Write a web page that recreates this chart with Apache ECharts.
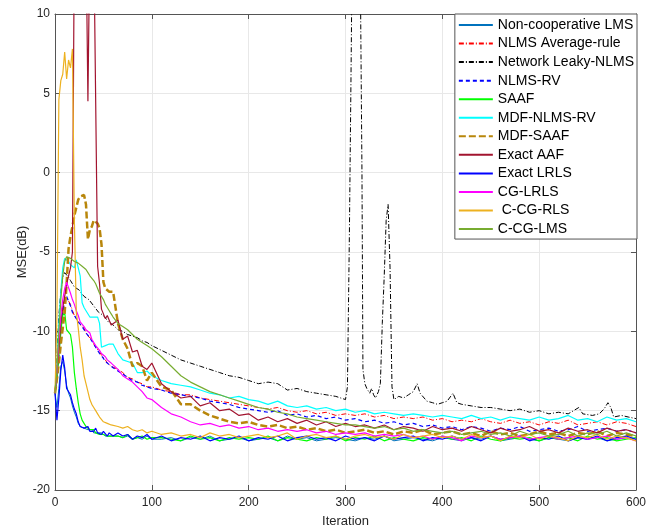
<!DOCTYPE html>
<html>
<head>
<meta charset="utf-8">
<script src="https://cdn.jsdelivr.net/npm/echarts@6/dist/echarts.min.js"></script>
<style>
  html, body { margin: 0; padding: 0; background: #fff; }
  #chart { width: 666px; height: 530px; }
</style>
</head>
<body>
<div id="chart"></div>
<script>
/* ===== data ===== */
// shared iteration grid: dense at the start, sparser in the tail
const iters = [
  0, 2, 4, 6, 8, 10, 12, 14, 16, 18, 20, 22, 24, 26, 28, 30, 32, 34, 36, 38, 40, 42, 44, 46, 48, 50, 52, 54, 56, 58, 60,
  65, 70, 75, 80, 85, 90, 95, 100,
  110, 120, 130, 140, 150, 160, 170, 180, 190, 200, 210, 220, 230, 240, 250, 260, 270, 280, 290, 300,
  310, 320, 330, 340, 350, 360, 370, 380, 390, 400, 410, 420, 430, 440, 450, 460, 470, 480, 490, 500,
  510, 520, 530, 540, 550, 560, 570, 580, 590, 600
];

const nonCoopLms = [
  -13.9, -14.8, -13.6, -12.2, -11.9, -12.5, -13.4, -13.9, -14.2, -14.7, -15.1, -15.4, -15.8, -16.0, -16.1, -16.1,
  -16.2, -16.2, -16.3, -16.2, -16.4, -16.3, -16.4, -16.5, -16.4, -16.5, -16.6, -16.5, -16.6, -16.5, -16.6,
  -16.6, -16.7, -16.6, -16.8, -16.7, -16.8, -16.6, -16.8,
  -16.8, -16.7, -16.9, -16.7, -16.8, -16.6, -16.9, -16.8, -16.7, -16.9,
  -16.8, -16.7, -16.9, -16.6, -16.8, -16.7, -16.9, -16.8, -16.7, -16.8,
  -16.9, -16.7, -16.8, -16.6, -16.9, -16.8, -16.7, -16.8, -16.9, -16.7,
  -16.8, -16.9, -16.7, -16.8, -16.6, -16.9, -16.8, -16.7, -16.8, -16.9,
  -16.7, -16.8, -16.9, -16.7, -16.8, -16.7, -16.9, -16.8, -16.7, -16.8
];

const nlmsAvg = [
  -13.9, -13.1, -11.6, -10.1, -8.9, -8.1, -7.9, -7.8, -8.3, -8.7, -9.0, -9.1, -9.4, -9.6, -9.7, -9.8,
  -10.1, -10.3, -10.4, -10.5, -10.8, -11.0, -11.1, -11.3, -11.5, -11.6, -11.8, -12.0, -12.1, -12.2, -12.3,
  -12.4, -12.6, -12.9, -13.0, -13.2, -13.3, -13.5, -13.5,
  -13.7, -13.8, -14.0, -14.0, -14.2, -14.3, -14.4, -14.5, -14.6, -14.7,
  -14.8, -14.9, -14.8, -15.0, -15.1, -15.0, -15.2, -15.1, -15.3, -15.2,
  -15.3, -15.2, -15.4, -15.3, -15.5, -15.4, -15.5, -15.4, -15.6, -15.5,
  -15.7, -15.6, -15.7, -15.5, -15.7, -15.8, -15.6, -15.8, -15.7, -15.9,
  -15.7, -15.8, -15.6, -15.9, -15.8, -15.7, -15.9, -15.7, -15.8, -16.0
];

// the leaky NLMS curve has its own grid because of the spikes near 300-350
const leakyIters = [
  0, 2, 4, 6, 8, 10, 12, 14, 16, 18, 20,
  25, 30, 35, 40, 45, 50, 55, 60, 65, 70, 75, 80, 85, 90, 95, 100,
  110, 120, 130, 140, 150, 160, 170, 180, 190, 200, 210, 220, 230, 240, 250, 260, 270, 280, 290,
  295, 300, 302, 304, 306, 307, 312, 315, 317, 318, 320, 322, 325, 327, 329, 331, 334, 336, 338, 340, 342, 344, 346, 348, 350,
  355, 360, 365, 370, 374, 377, 384, 390, 395, 400, 405, 411, 415, 420,
  430, 440, 450, 460, 470, 480, 490, 500, 510, 520, 530, 541, 545, 555, 562, 567, 571, 574, 577, 585, 592, 600
];
const leakyMse = [
  -13.9, -11.5, -9.0, -7.5, -6.6, -6.3, -6.3, -6.6, -6.8, -7.0, -7.2,
  -7.4, -7.8, -8.0, -8.4, -8.8, -9.0, -9.4, -9.6, -9.9, -10.0, -10.2, -10.3, -10.4, -10.6, -10.7, -10.9,
  -11.2, -11.5, -11.8, -12.0, -12.2, -12.4, -12.6, -12.8, -12.9, -13.1, -13.3, -13.2, -13.3, -13.7, -13.6, -13.8, -13.9, -14.0, -14.1,
  -14.2, -14.3, -13.5, -4.0, 8.0, 15, 16, 15, 0, -12.4, -13.3, -13.6, -13.9, -13.6, -14.0, -14.2, -13.8, -13.3, -9.5, -6.5, -3.0, -2.0, -6.0, -13.5, -14.3,
  -14.1, -14.2, -14.0, -13.8, -13.3, -13.9, -14.4, -14.5, -14.6, -14.5, -14.4, -13.9, -14.5, -14.6,
  -14.7, -14.8, -14.8, -14.9, -15.0, -14.9, -15.1, -15.0, -15.2, -15.1, -15.2, -14.8, -15.2, -15.3, -15.2, -14.9, -14.5, -14.8, -15.4, -15.3, -15.4, -15.5
];

const nlmsRv = [
  -13.9, -13.0, -11.5, -10.0, -8.8, -8.0, -7.8, -7.7, -8.4, -8.8, -9.0, -9.2, -9.4, -9.5, -9.7, -9.9,
  -10.1, -10.2, -10.4, -10.6, -10.8, -11.0, -11.2, -11.4, -11.5, -11.7, -11.9, -12.0, -12.1, -12.2, -12.3,
  -12.5, -12.7, -12.9, -13.1, -13.2, -13.4, -13.5, -13.6,
  -13.7, -13.9, -14.0, -14.1, -14.2, -14.4, -14.5, -14.6, -14.8, -14.9,
  -15.0, -15.1, -15.0, -15.3, -15.2, -15.4, -15.3, -15.5, -15.4, -15.6,
  -15.5, -15.7, -15.6, -15.8, -15.7, -15.9, -15.8, -16.0, -15.9, -16.1,
  -16.0, -16.2, -16.0, -16.1, -16.3, -16.1, -16.2, -16.0, -16.3, -16.2,
  -16.1, -16.3, -16.2, -16.0, -16.3, -16.2, -16.1, -16.3, -16.2, -16.4
];

const saaf = [
  -13.9, -13.0, -11.5, -10.0, -9.0, -8.8, -9.9, -9.8, -10.2, -11.0, -12.6, -13.6, -14.5, -15.2, -15.6, -15.8,
  -16.0, -16.1, -16.2, -16.3, -16.2, -16.4, -16.3, -16.5, -16.4, -16.5, -16.4, -16.6, -16.5, -16.6, -16.5,
  -16.6, -16.7, -16.5, -16.8, -16.7, -16.6, -16.8, -16.7,
  -16.7, -16.8, -16.9, -16.6, -16.8, -16.7, -16.9, -16.7, -16.8, -16.7,
  -16.8, -16.6, -16.9, -16.7, -16.8, -16.9, -16.7, -16.8, -16.6, -16.9,
  -16.7, -16.8, -16.6, -16.9, -16.7, -16.8, -16.9, -16.7, -16.8, -16.6,
  -16.8, -16.7, -16.9, -16.6, -16.8, -16.9, -16.7, -16.8, -16.7, -16.9,
  -16.7, -16.8, -16.7, -16.9, -16.6, -16.8, -16.7, -16.9, -16.8, -16.7
];

const mdfNlmsRv = [
  -13.9, -12.0, -9.5, -7.5, -6.0, -5.4, -5.3, -5.6, -5.8, -5.9, -6.0, -5.5, -6.0, -6.5, -8.2, -8.5,
  -8.7, -8.8, -9.1, -9.0, -9.1, -9.2, -9.1, -9.5, -11.0, -11.0, -10.9, -11.0, -10.8, -10.8, -10.8,
  -11.4, -11.8, -11.9, -12.0, -12.6, -12.6, -12.5, -12.8,
  -13.1, -13.3, -13.4, -13.5, -13.7, -13.9, -14.0, -14.2, -14.1, -14.3,
  -14.4, -14.6, -14.4, -14.7, -14.8, -14.7, -14.9, -14.8, -15.0, -14.9,
  -15.1, -15.0, -15.2, -15.1, -15.2, -15.3, -15.2, -15.3, -15.4, -15.3,
  -15.4, -15.5, -15.3, -15.5, -15.4, -15.6, -15.4, -15.5, -15.6, -15.4,
  -15.6, -15.5, -15.3, -15.6, -15.5, -15.7, -15.4, -15.6, -15.5, -15.7
];

const mdfSaaf = [
  -13.9, -13.0, -12.0, -10.8, -9.8, -8.8, -7.0, -4.8, -4.0, -3.4, -2.7, -2.2, -1.7, -1.5, -1.4, -1.4,
  -2.0, -4.2, -3.6, -3.4, -3.0, -3.1, -3.2, -3.5, -4.5, -6.9, -7.3, -7.4, -7.5, -7.4, -7.5,
  -9.5, -10.5, -11.1, -12.2, -12.0, -12.2, -13.1, -12.6,
  -13.5, -13.7, -14.6, -14.6, -15.0, -15.3, -15.5, -15.7, -15.8, -15.7,
  -15.9, -16.0, -15.9, -16.1, -16.0, -16.2, -16.1, -16.3, -16.2, -16.4,
  -16.3, -16.2, -16.4, -16.3, -16.5, -16.3, -16.4, -16.2, -16.5, -16.4,
  -16.3, -16.5, -16.4, -16.6, -16.3, -16.5, -16.4, -16.6, -16.5, -16.3,
  -16.5, -16.4, -16.6, -16.4, -16.5, -16.3, -16.6, -16.4, -16.5, -16.6
];

// values above 10 dB are cut off by the axis
const exactAaf = [
  -13.9, -12.5, -11.0, -9.5, -8.5, -7.8, -7.0, -6.5, -6.0, -5.0, 15, 15, 15, 15, 15, 15,
  15, 4.5, 15, 15, 15, 15, -5.9, -7.0, -8.6, -8.5, -9.2, -9.0, -8.9, -9.6, -9.7,
  -9.3, -10.5, -10.3, -11.3, -11.2, -12.2, -12.4, -12.0,
  -13.3, -13.8, -14.2, -14.1, -14.7, -14.5, -15.0, -14.9, -15.3, -15.2,
  -15.6, -15.4, -15.7, -15.5, -15.8, -15.6, -15.9, -15.7, -16.0, -15.8,
  -16.0, -15.9, -16.1, -15.9, -16.2, -16.0, -16.1, -16.3, -16.0, -16.2,
  -16.1, -16.3, -16.0, -16.2, -16.4, -16.1, -16.3, -16.2, -16.0, -16.3,
  -16.2, -16.4, -16.1, -16.3, -16.2, -16.4, -16.1, -16.3, -16.2, -16.4
];

const exactLrls = [
  -13.9, -15.6, -14.2, -12.5, -11.5, -12.3, -13.6, -13.7, -14.0, -14.5, -14.9, -15.2, -15.7, -16.0, -15.9, -16.1,
  -16.2, -16.0, -16.3, -16.2, -16.3, -16.1, -16.4, -16.3, -16.5, -16.3, -16.4, -16.6, -16.4, -16.5, -16.6,
  -16.4, -16.6, -16.5, -16.8, -16.6, -16.7, -16.5, -16.8,
  -16.6, -16.9, -16.7, -16.8, -16.6, -16.9, -16.7, -16.8, -16.6, -16.9,
  -16.7, -16.8, -16.6, -16.9, -16.7, -16.6, -16.8, -16.7, -16.9, -16.6,
  -16.8, -16.7, -16.9, -16.6, -16.8, -16.7, -16.6, -16.9, -16.7, -16.8,
  -16.6, -16.8, -16.7, -16.9, -16.6, -16.8, -16.7, -16.6, -16.9, -16.7,
  -16.8, -16.6, -16.9, -16.7, -16.8, -16.6, -16.9, -16.7, -16.6, -16.8
];

const cgLrls = [
  -13.9, -12.5, -10.5, -9.0, -8.0, -7.3, -6.9, -6.8, -7.6, -8.0, -8.3, -8.7, -9.0, -9.4, -9.4, -9.7,
  -9.9, -10.0, -10.1, -10.5, -10.6, -10.9, -11.0, -11.2, -11.4, -11.5, -11.6, -11.8, -11.9, -12.0, -12.1,
  -12.4, -12.8, -13.0, -13.2, -13.5, -13.8, -14.2, -14.3,
  -14.8, -15.2, -15.4, -15.7, -15.9, -15.8, -16.0, -15.9, -16.1, -16.0,
  -16.2, -16.1, -16.3, -16.2, -16.3, -16.2, -16.4, -16.3, -16.5, -16.4,
  -16.5, -16.4, -16.6, -16.5, -16.6, -16.5, -16.7, -16.6, -16.8, -16.6,
  -16.7, -16.9, -16.6, -16.7, -16.6, -16.8, -16.7, -16.6, -16.8, -16.7,
  -16.6, -16.8, -16.7, -16.6, -16.8, -16.7, -16.6, -16.8, -16.7, -16.9
];

const ccgRls = [
  -13.9, -9.0, 4.6, 5.8, 6.2, 7.6, 5.9, 7.1, 6.6, 7.8, -3.0, -8.8, -9.8, -11.0, -11.8, -12.8,
  -13.3, -13.8, -14.3, -14.6, -14.8, -15.0, -15.2, -15.4, -15.5, -15.7, -15.7, -15.8, -15.9, -15.9, -16.0,
  -16.0, -16.1, -16.0, -16.2, -16.3, -16.2, -16.4, -16.3,
  -16.5, -16.4, -16.6, -16.5, -16.7, -16.4, -16.6, -16.5, -16.7, -16.6,
  -16.5, -16.7, -16.6, -16.4, -16.8, -16.6, -16.5, -16.7, -16.6, -16.8,
  -16.6, -16.5, -16.7, -16.6, -16.8, -16.5, -16.7, -16.6, -16.5, -16.7,
  -16.6, -16.8, -16.5, -16.7, -16.6, -16.9, -16.6, -16.7, -16.5, -16.8,
  -16.6, -16.7, -16.9, -16.6, -16.7, -16.5, -16.8, -16.6, -16.7, -16.9
];

const ccgLms = [
  -13.9, -12.5, -10.0, -8.0, -6.5, -5.6, -5.3, -5.2, -5.4, -5.5, -5.6, -5.6, -5.7, -5.7, -5.9, -6.0,
  -6.1, -6.3, -6.5, -6.6, -6.8, -7.0, -7.3, -7.6, -7.8, -8.0, -8.3, -8.5, -8.7, -8.9, -9.1,
  -9.5, -9.7, -9.9, -10.2, -10.5, -10.7, -10.9, -11.1,
  -11.6, -12.2, -12.8, -13.2, -13.5, -13.8, -14.0, -14.2, -14.4, -14.6,
  -14.8, -14.9, -15.1, -15.2, -15.4, -15.5, -15.6, -15.7, -15.8, -15.9,
  -15.9, -16.0, -16.1, -16.0, -16.2, -16.1, -16.3, -16.2, -16.3, -16.4,
  -16.3, -16.5, -16.4, -16.3, -16.5, -16.4, -16.6, -16.3, -16.5, -16.4,
  -16.6, -16.5, -16.3, -16.6, -16.4, -16.5, -16.3, -16.6, -16.4, -16.6
];

/* ===== series setup ===== */
const pairs = (xs, ys) => xs.map((x, i) => [x, ys[i]]);
const dashDot = [5, 2, 1, 2];

const lines = [
  { name: "Non-cooperative LMS", x: iters, y: nonCoopLms, color: "#0072BD", width: 1, type: "solid" },
  { name: "NLMS Average-rule", x: iters, y: nlmsAvg, color: "#FF0000", width: 1, type: dashDot },
  { name: "Network Leaky-NLMS", x: leakyIters, y: leakyMse, color: "#000000", width: 1, type: dashDot },
  { name: "NLMS-RV", x: iters, y: nlmsRv, color: "#0000FF", width: 1.2, type: [4, 3] },
  { name: "SAAF", x: iters, y: saaf, color: "#00FF00", width: 1.2, type: "solid" },
  { name: "MDF-NLMS-RV", x: iters, y: mdfNlmsRv, color: "#00FFFF", width: 1.2, type: "solid" },
  { name: "MDF-SAAF", x: iters, y: mdfSaaf, color: "#B8860B", width: 2.5, type: [7, 3] },
  { name: "Exact AAF", x: iters, y: exactAaf, color: "#A2142F", width: 1.2, type: "solid" },
  { name: "Exact LRLS", x: iters, y: exactLrls, color: "#0000FF", width: 1.2, type: "solid" },
  { name: "CG-LRLS", x: iters, y: cgLrls, color: "#FF00FF", width: 1.2, type: "solid" },
  { name: " C-CG-RLS", x: iters, y: ccgRls, color: "#EDB120", width: 1.2, type: "solid" },
  { name: "C-CG-LMS", x: iters, y: ccgLms, color: "#77AC30", width: 1.2, type: "solid" },
];

const font = "Arial, 'Liberation Sans', Helvetica, sans-serif";
const axisColor = "#555";

const chart = echarts.init(document.getElementById("chart"));
chart.setOption({
  animation: false,
  backgroundColor: "#fff",
  grid: { left: 55, right: 30, top: 14, bottom: 40, outerBoundsMode: "none" },

  legend: {
    orient: "vertical",
    right: 29,
    top: 14,
    padding: [4, 3, 3, 3],
    itemWidth: 34,
    itemHeight: 14,
    itemGap: 4.55,
    backgroundColor: "#fff",
    borderColor: axisColor,
    borderWidth: 1,
    itemStyle: { opacity: 0 }, // line only, no marker in the key
    textStyle: { fontFamily: font, fontSize: 14, color: "#000" },
    data: lines.map((l) => l.name),
  },

  xAxis: [
    {
      type: "value",
      min: 0,
      max: 600,
      interval: 100,
      name: "Iteration",
      nameLocation: "middle",
      nameGap: 25,
      nameMoveOverlap: false,
      nameTextStyle: { fontFamily: font, fontSize: 13, color: "#262626" },
      axisLine: { onZero: false, lineStyle: { color: axisColor } },
      axisTick: { inside: true, length: 5, lineStyle: { color: axisColor } },
      axisLabel: { fontFamily: font, fontSize: 12, color: "#262626", margin: 7 },
      splitLine: { show: true, lineStyle: { color: "#e8e8e8" } },
    },
    {
      type: "value",
      position: "top",
      min: 0,
      max: 600,
      interval: 100,
      axisLine: { onZero: false, lineStyle: { color: axisColor } },
      axisTick: { inside: true, length: 5, lineStyle: { color: axisColor } },
      axisLabel: { show: false },
      splitLine: { show: false },
    },
  ],
  yAxis: [
    {
      type: "value",
      min: -20,
      max: 10,
      interval: 5,
      name: "MSE(dB)",
      nameLocation: "middle",
      nameGap: 26,
      nameMoveOverlap: false,
      nameTextStyle: { fontFamily: font, fontSize: 13, color: "#262626" },
      axisLine: { show: true, onZero: false, lineStyle: { color: axisColor } },
      axisTick: { show: true, inside: true, length: 5, lineStyle: { color: axisColor } },
      axisLabel: { fontFamily: font, fontSize: 12, color: "#262626", margin: 5 },
      splitLine: { show: true, lineStyle: { color: "#e8e8e8" } },
    },
    {
      type: "value",
      position: "right",
      min: -20,
      max: 10,
      interval: 5,
      axisLine: { show: true, onZero: false, lineStyle: { color: axisColor } },
      axisTick: { show: true, inside: true, length: 5, lineStyle: { color: axisColor } },
      axisLabel: { show: false },
      splitLine: { show: false },
    },
  ],

  series: lines.map((l) => ({
    name: l.name,
    type: "line",
    xAxisIndex: 0,
    yAxisIndex: 0,
    data: pairs(l.x, l.y),
    symbol: "none",
    clip: true,
    color: l.color,
    lineStyle: { color: l.color, width: l.width, type: l.type },
  })),
});
</script>
</body>
</html>
